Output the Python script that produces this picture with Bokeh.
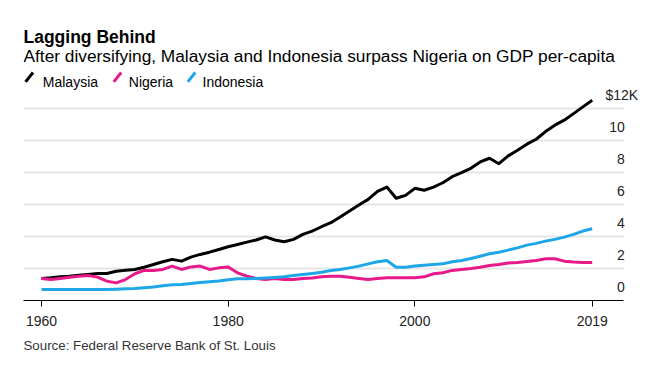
from bokeh.plotting import figure
from bokeh.models import Range1d, FixedTicker, Title, ColumnDataSource
from bokeh.core.properties import value
from bokeh.embed import file_html
from bokeh.resources import INLINE

# ---------------- data (GDP per capita, $K) ----------------
years = list(range(1960, 2020))

malaysia = [1.38, 1.42, 1.48, 1.52, 1.58, 1.63, 1.69, 1.69, 1.83, 1.89,
            1.94, 2.08, 2.25, 2.42, 2.57, 2.46, 2.71, 2.88, 3.02, 3.19,
            3.36, 3.50, 3.65, 3.78, 3.98, 3.78, 3.67, 3.82, 4.13, 4.34,
            4.61, 4.86, 5.22, 5.59, 5.97, 6.32, 6.82, 7.09, 6.39, 6.57,
            7.01, 6.89, 7.09, 7.36, 7.74, 7.99, 8.26, 8.66, 8.89, 8.55,
            9.04, 9.39, 9.77, 10.08, 10.56, 10.96, 11.27, 11.68, 12.10, 12.52]

nigeria = [1.38, 1.31, 1.38, 1.45, 1.52, 1.56, 1.46, 1.21, 1.10, 1.31,
           1.67, 1.88, 1.88, 1.94, 2.15, 1.94, 2.10, 2.15, 1.94, 2.04,
           2.10, 1.73, 1.52, 1.38, 1.31, 1.38, 1.31, 1.31, 1.38, 1.40,
           1.48, 1.52, 1.52, 1.46, 1.38, 1.31, 1.38, 1.42, 1.42, 1.42,
           1.42, 1.48, 1.67, 1.73, 1.88, 1.94, 2.00, 2.08, 2.19, 2.25,
           2.34, 2.38, 2.44, 2.50, 2.61, 2.61, 2.46, 2.40, 2.38, 2.38]

indonesia = [0.69, 0.69, 0.69, 0.69, 0.69, 0.69, 0.69, 0.69, 0.71, 0.73,
             0.75, 0.80, 0.85, 0.92, 0.98, 1.00, 1.06, 1.12, 1.17, 1.22,
             1.29, 1.36, 1.36, 1.37, 1.40, 1.44, 1.48, 1.56, 1.62, 1.69,
             1.76, 1.88, 1.94, 2.04, 2.15, 2.29, 2.42, 2.50, 2.08, 2.08,
             2.15, 2.21, 2.25, 2.29, 2.42, 2.50, 2.63, 2.77, 2.92, 3.02,
             3.15, 3.29, 3.46, 3.57, 3.71, 3.82, 3.96, 4.13, 4.34, 4.48]

series_names = ["Malaysia", "Nigeria", "Indonesia"]
series_colors = ["#000000", "#e8198b", "#1ea7e8"]

x_ticks = [1960, 1980, 2000, 2019]
y_ticks = [0, 2, 4, 6, 8, 10, 12]
y_tick_labels = ["0", "2", "4", "6", "8", "10", "$12K"]

title_text = "Lagging Behind"
subtitle_text = "After diversifying, Malaysia and Indonesia surpass Nigeria on GDP per-capita"
source_text = "Source: Federal Reserve Bank of St. Louis"

# ---------------- layout geometry (pixels) ----------------
FONT = "Liberation Sans"
FRAME_W = 622
FRAME_H = 292
PX_YEAR = 9.334
PX_UNIT = 16.0
X0 = 1958.072
X1 = X0 + FRAME_W / PX_YEAR
Y1 = FRAME_H / PX_UNIT
GRID_END = X0 + 600.3 / PX_YEAR


def xd(px):
    return X0 + px / PX_YEAR


def yd(px):
    return Y1 - px / PX_UNIT


p = figure(frame_width=FRAME_W, frame_height=FRAME_H,
           x_range=Range1d(X0, X1), y_range=Range1d(0, Y1),
           output_backend="svg", toolbar_location=None, title=None,
           min_border_left=23, min_border_right=0, min_border_top=8,
           min_border_bottom=70, y_axis_location=None)
p.outline_line_color = None
p.xgrid.visible = False
p.ygrid.visible = False
p.background_fill_color = "white"
p.border_fill_color = "white"

# gridlines
grid_vals = y_ticks[1:]
p.segment(x0=[X0] * len(grid_vals), y0=grid_vals, x1=[GRID_END] * len(grid_vals),
          y1=grid_vals, line_color="#e6e6e6", line_width=2)

# x axis
ax = p.xaxis[0]
ax.ticker = FixedTicker(ticks=x_ticks)
ax.bounds = (X0, GRID_END)
ax.axis_line_color = "black"
ax.axis_line_width = 1
ax.major_tick_line_color = "black"
ax.major_tick_out = 6
ax.major_tick_in = 0
ax.minor_tick_line_color = None
ax.major_label_standoff = 9
ax.major_label_text_font = FONT
ax.major_label_text_font_size = "14px"
ax.major_label_text_color = "#222222"

# series lines
for vals, col in zip([malaysia, nigeria, indonesia], series_colors):
    p.line(years, vals, line_color=col, line_width=3, line_join="round")

# y tick labels (above gridlines, right side)
ysrc = ColumnDataSource(dict(x=[GRID_END] * len(y_ticks), y=y_ticks, text=y_tick_labels,
                             xo=[1] * (len(y_ticks) - 1) + [14.4]))
p.text(x="x", y="y", text="text", x_offset="xo", y_offset=-13.5, source=ysrc,
       text_align="right", text_baseline="middle", text_font=value(FONT),
       text_font_size="14px", text_color="#222222")

# title and subtitle
p.text(x=[X0], y=[Y1], text=[title_text], x_offset=0, y_offset=28.7,
       text_align="left", text_baseline="alphabetic", text_font=value(FONT),
       text_font_size="17.5px", text_font_style="bold", text_color="#000000")
p.text(x=[X0], y=[Y1], text=[subtitle_text], x_offset=0, y_offset=47,
       text_align="left", text_baseline="alphabetic", text_font=value(FONT),
       text_font_size="17.3px", text_color="#000000")

# legend: slash icons + names
leg_icon_px = [5.8, 94, 168]
leg_text_px = [19.3, 105.3, 179]
leg_y_px = 68.7
p.scatter(x=[xd(v) for v in leg_icon_px], y=[yd(leg_y_px)] * 3, marker="dash",
          size=12, angle=0.9, line_color=series_colors, line_width=3)
p.text(x=[X0] * 3, y=[Y1] * 3, text=series_names, x_offset=leg_text_px, y_offset=73.7,
       text_align="left", text_baseline="alphabetic", text_font=value(FONT),
       text_font_size="14px", text_color="#000000")

# source
p.add_layout(Title(text=source_text, align="left", text_font=FONT, text_font_size="13.3px",
                   text_font_style="normal", text_color="#333333", standoff=15), "below")

open("out.html", "w").write(file_html(p, INLINE))
